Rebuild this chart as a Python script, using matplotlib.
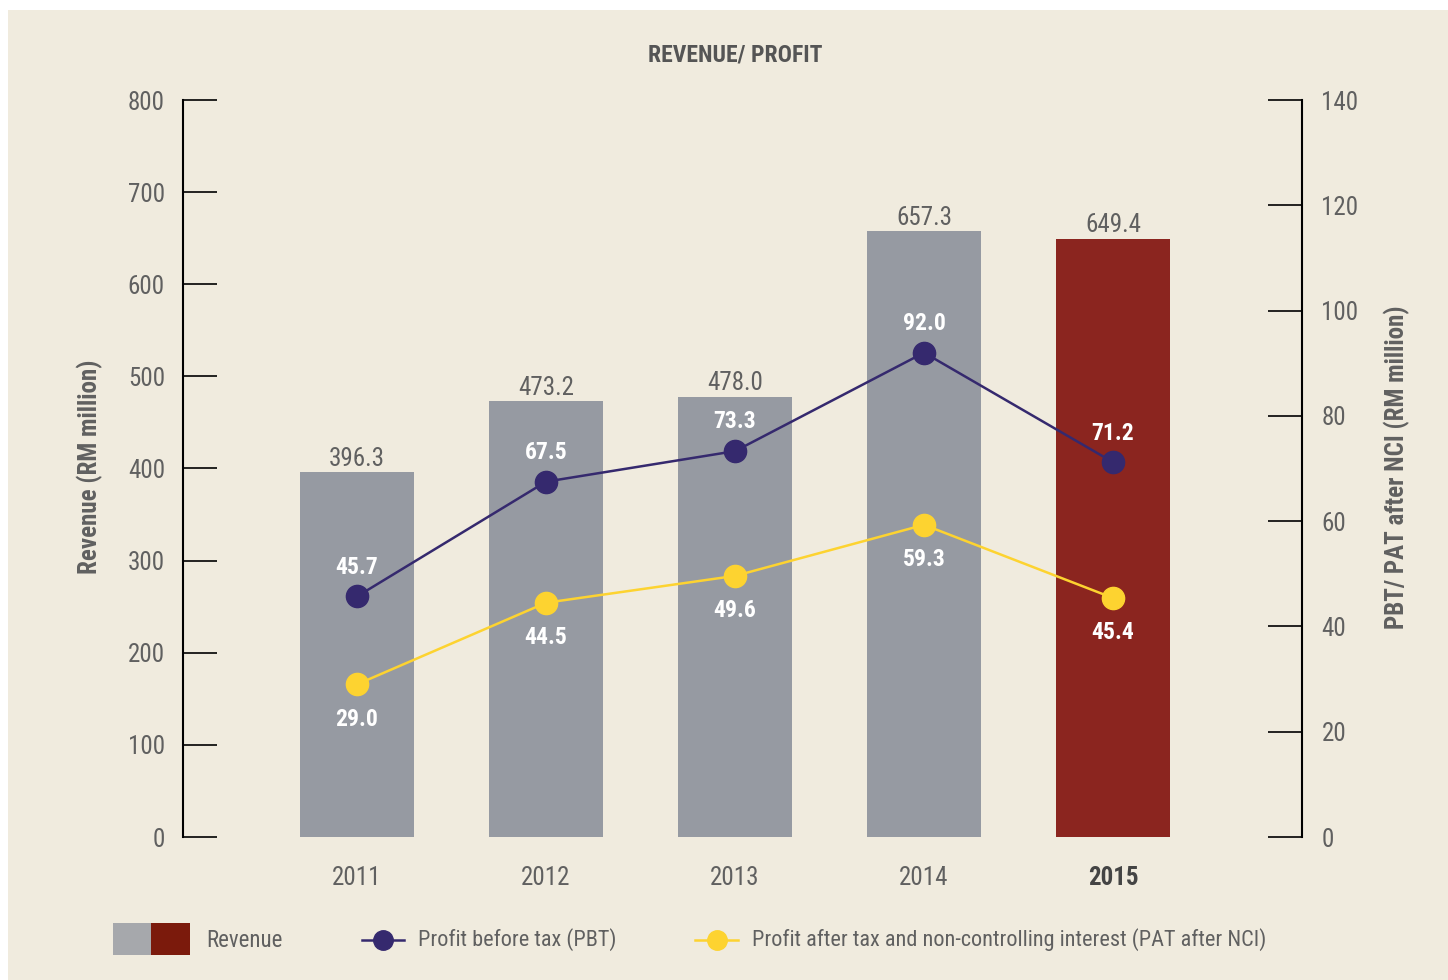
import numpy as np
import matplotlib
matplotlib.use('Agg')
import matplotlib.pyplot as plt
from matplotlib.patches import Rectangle
from matplotlib.lines import Line2D

plt.rcParams['font.family'] = ['Liberation Sans Narrow', 'Roboto Condensed',
                               'DejaVu Sans Condensed', 'Roboto', 'DejaVu Sans']

# data
years = ['2011', '2012', '2013', '2014', '2015']
revenue = [396.3, 473.2, 478.0, 657.3, 649.4]
pbt = [45.7, 67.5, 73.3, 92.0, 71.2]
pat = [29.0, 44.5, 49.6, 59.3, 45.4]

bg = '#F0EBDE'
grey_bar = '#969AA2'
red_bar = '#8B251F'
navy = '#35296E'
yellow = '#FDD330'
txt = '#606060'

W, H = 1448, 980
fig = plt.figure(figsize=(W / 100, H / 100), dpi=100)
fig.patch.set_facecolor('white')
fig.add_artist(Rectangle((8 / W, 0), 1, 1 - 10 / H, transform=fig.transFigure,
                         facecolor=bg, edgecolor='none', zorder=-10))

ax = fig.add_axes([183 / W, 1 - 837 / H, (1302 - 183) / W, (837 - 100) / H])
ax.patch.set_alpha(0)
x = np.arange(len(years))
bar_colors = [grey_bar] * 4 + [red_bar]
ax.bar(x, revenue, width=0.603, color=bar_colors)
ax.set_xlim(-0.921, 5.0)
ax.set_ylim(0, 800)
ax.set_yticks(range(0, 801, 100))
for s in ['top', 'right', 'bottom']:
    ax.spines[s].set_visible(False)
ax.spines['left'].set_linewidth(1.5)
ax.tick_params(axis='y', direction='in', length=24.5, width=1.2, pad=13,
               labelsize=18, labelcolor=txt)
ax.set_xticks(x)
ax.set_xticklabels(years)
ax.tick_params(axis='x', length=0, pad=21, labelsize=18, labelcolor=txt)
lbl = ax.get_xticklabels()[-1]
lbl.set_fontweight('bold')
lbl.set_color('#444444')

for xi, v in zip(x, revenue):
    ax.annotate(f'{v:.1f}', (xi, v), xytext=(0, 1), textcoords='offset points',
                ha='center', va='bottom', fontsize=18, color=txt)

ax2 = ax.twinx()
ax2.patch.set_alpha(0)
ax2.set_ylim(0, 140)
ax2.set_yticks(range(0, 141, 20))
for s in ['top', 'left', 'bottom']:
    ax2.spines[s].set_visible(False)
ax2.spines['right'].set_linewidth(1.5)
ax2.tick_params(axis='y', direction='in', length=24.5, width=1.2, pad=14,
                labelsize=18, labelcolor=txt)

ax2.plot(x, pbt, color=navy, lw=1.8, marker='o', ms=16, zorder=3)
ax2.plot(x, pat, color=yellow, lw=1.8, marker='o', ms=16, zorder=3)
for xi, v in zip(x, pbt):
    ax2.annotate(f'{v:.1f}', (xi, v), xytext=(0, 21), textcoords='offset points',
                 ha='center', va='center', fontsize=17, fontweight='bold', color='white')
for xi, v in zip(x, pat):
    ax2.annotate(f'{v:.1f}', (xi, v), xytext=(0, -25), textcoords='offset points',
                 ha='center', va='center', fontsize=17, fontweight='bold', color='white')

fig.text(735 / W, 1 - 55 / H, 'REVENUE/ PROFIT', ha='center', va='center',
         fontsize=17, fontweight='bold', color='#555555')
fig.text(90 / W, 1 - 467 / H, 'Revenue (RM million)', rotation=90, ha='center',
         va='center', fontsize=18, fontweight='bold', color=txt)
fig.text(1397 / W, 1 - 467 / H, 'PBT/ PAT after NCI (RM million)', rotation=90,
         ha='center', va='center', fontsize=18, fontweight='bold', color=txt)

# legend
ly = 1 - 940 / H
fig.add_artist(Rectangle((113 / W, 1 - 955 / H), 38 / W, 32 / H,
                         transform=fig.transFigure, facecolor='#A6A8AC', edgecolor='none'))
fig.add_artist(Rectangle((151 / W, 1 - 955 / H), 39 / W, 32 / H,
                         transform=fig.transFigure, facecolor='#7B1A0C', edgecolor='none'))
fig.text(206 / W, ly, 'Revenue', ha='left', va='center', fontsize=16.5, color=txt)
for x0, x1, c, label in [(362, 404, navy, 'Profit before tax (PBT)'),
                         (695, 738, yellow, 'Profit after tax and non-controlling interest (PAT after NCI)')]:
    fig.add_artist(Line2D([x0 / W, x1 / W], [ly, ly], transform=fig.transFigure,
                          color=c, lw=1.8))
    fig.add_artist(Line2D([(x0 + x1) / 2 / W], [ly], transform=fig.transFigure,
                          color=c, marker='o', ms=14))
    fig.text((x1 + 14) / W, ly, label, ha='left', va='center', fontsize=16, color=txt)

fig.savefig('out.png', dpi=100, facecolor=fig.get_facecolor())
